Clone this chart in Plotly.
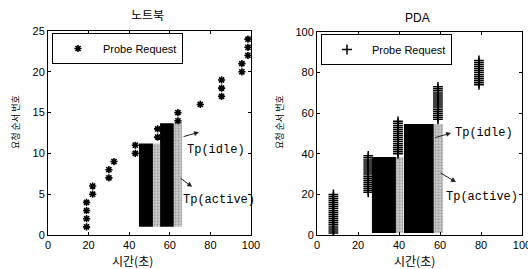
import plotly.graph_objects as go

# ---------------- data ----------------
# 노트북 (laptop)
nb_x = [19, 19, 19, 19, 22, 22, 30, 30, 32.5, 43, 43, 54, 54, 64, 64, 75,
        85.5, 85.5, 85.5, 95.5, 95.5, 98.5, 98.5, 98.5]
nb_y = [1, 2, 3, 4, 5, 6, 7, 8, 9, 10, 11, 12, 13, 14, 15, 16,
        17, 18, 19, 20, 21, 22, 23, 24]
nb_active_start = [44.8, 55.2]
nb_active_end = [51.7, 62.0]
nb_active_top = [11.2, 13.7]
nb_idle_start = [51.7, 62.0]
nb_idle_end = [55.2, 66.0]
nb_idle_top = [11.2, 13.9]
nb_bar_base = 1

# PDA
pda_x = ([8] * 20 + [25] * 19 + [39.5] * 17 + [59] * 17 + [79] * 13)
pda_y = ([1, 2, 3, 4, 5, 6, 7, 8, 9, 10, 11, 12, 13, 14, 15, 16, 17, 18, 19, 20]
         + [21, 22, 23, 24, 25, 26, 27, 28, 29, 30, 31, 32, 33, 34, 35, 36, 37, 38, 39]
         + [40, 41, 42, 43, 44, 45, 46, 47, 48, 49, 50, 51, 52, 53, 54, 55, 56]
         + [57, 58, 59, 60, 61, 62, 63, 64, 65, 66, 67, 68, 69, 70, 71, 72, 73]
         + [74, 75, 76, 77, 78, 79, 80, 81, 82, 83, 84, 85, 86])
pda_active_start = [26.8, 42.4]
pda_active_end = [38.5, 57.0]
pda_active_top = [38.4, 54.7]
pda_idle_start = [38.5, 57.0]
pda_idle_end = [42.0, 61.5]
pda_idle_top = [38.4, 54.7]
pda_bar_base = 1

x_ticks = [0, 20, 40, 60, 80, 100]
nb_y_ticks = [0, 5, 10, 15, 20, 25]
pda_y_ticks = [0, 20, 40, 60, 80, 100]

titles = ["노트북", "PDA"]
x_title = "시간(초)"
y_title = "요청 순서 번호"
legend_label = "Probe Request"

# ---------------- figure ----------------
W, H = 528, 269
TXT = "Liberation Sans, Arial, sans-serif"
KR = "Noto Sans CJK KR, sans-serif"
MONO = "Liberation Mono, Courier New, monospace"

fig = go.Figure()


def bars(starts, ends, tops, base, color, xa, ya, pattern=None):
    centers = [(s + e) / 2 for s, e in zip(starts, ends)]
    widths = [e - s for s, e in zip(starts, ends)]
    heights = [t - base for t in tops]
    marker = dict(color=color, line=dict(width=0))
    if pattern:
        marker["pattern"] = pattern
    fig.add_trace(go.Bar(x=centers, y=heights, base=[base] * len(tops), width=widths,
                         marker=marker, showlegend=False, xaxis=xa, yaxis=ya,
                         hoverinfo="skip"))


gray_pat = dict(shape=".", fgcolor="#707070", bgcolor="#d0d0d0", size=3, solidity=0.45)

bars(nb_active_start, nb_active_end, nb_active_top, nb_bar_base, "#000000", "x", "y")
bars(nb_idle_start, nb_idle_end, nb_idle_top, nb_bar_base, "#b4b4b4", "x", "y", gray_pat)
bars(pda_active_start, pda_active_end, pda_active_top, pda_bar_base, "#000000", "x2", "y2")
bars(pda_idle_start, pda_idle_end, pda_idle_top, pda_bar_base, "#b4b4b4", "x2", "y2", gray_pat)

fig.add_trace(go.Scatter(x=nb_x, y=nb_y, mode="markers", name=legend_label,
                         marker=dict(symbol="asterisk-open", size=6, color="#000",
                                     line=dict(width=1.6, color="#111")),
                         xaxis="x", yaxis="y", legend="legend"))
fig.add_trace(go.Scatter(x=pda_x, y=pda_y, mode="markers", name=legend_label,
                         marker=dict(symbol="cross-thin-open", size=7, color="#000",
                                     line=dict(width=1.5, color="#111")),
                         xaxis="x2", yaxis="y2", legend="legend2"))

axis_common = dict(showline=True, linecolor="#000", linewidth=1, mirror="ticks",
                   ticks="inside", ticklen=3, tickcolor="#000", showgrid=False,
                   zeroline=False, tickfont=dict(family=TXT, size=11, color="#000"),
                   fixedrange=True, automargin=False)

leg_common = dict(xanchor="left", yanchor="top", bordercolor="#000", borderwidth=1,
                  bgcolor="#fff", font=dict(family=TXT, size=11, color="#000"),
                  entrywidth=88, tracegroupgap=0, itemwidth=40)

fig.update_layout(
    width=W, height=H, margin=dict(l=0, r=0, t=0, b=0, autoexpand=False),
    paper_bgcolor="#fff", plot_bgcolor="#fff", barmode="overlay",
    xaxis=dict(domain=[48 / W, 251 / W], range=[0, 100], tickvals=x_ticks,
               anchor="y", **axis_common),
    yaxis=dict(domain=[(H - 235) / H, (H - 31) / H], range=[0, 25], tickvals=nb_y_ticks,
               anchor="x", **axis_common),
    xaxis2=dict(domain=[317 / W, 522 / W], range=[0, 100], tickvals=x_ticks,
                anchor="y2", ticklabeloverflow="allow", **axis_common),
    yaxis2=dict(domain=[(H - 235) / H, (H - 32) / H], range=[0, 100], tickvals=pda_y_ticks,
                anchor="x2", **axis_common),
    legend=dict(x=52 / W, y=(H - 33) / H, **leg_common),
    legend2=dict(x=321 / W, y=(H - 34) / H, **leg_common),
    showlegend=True,
)

ann = []
c = dict(xref="paper", yref="paper", showarrow=False, xanchor="center", yanchor="middle")
# titles
ann.append(dict(x=147 / W, y=(H - 15) / H, text=titles[0],
                font=dict(family=KR, size=12, color="#000"), **c))
ann.append(dict(x=417 / W, y=(H - 18) / H, text=titles[1],
                font=dict(family=TXT, size=12, color="#000"), **c))
# x titles
for cx in (132, 414):
    ann.append(dict(x=cx / W, y=(H - 260) / H, text=x_title,
                    font=dict(family=KR, size=12, color="#000"), **c))
# y titles
for cx in (15, 279):
    ann.append(dict(x=cx / W, y=(H - 122) / H, text=y_title, textangle=-90,
                    font=dict(family=KR, size=9, color="#000"), **c))

# Tp labels and arrows
mono = dict(family=MONO, size=12, color="#000")
t = dict(showarrow=False, xanchor="left", yanchor="middle", font=mono)
arr = dict(text="", showarrow=True, arrowhead=2, arrowsize=1, arrowwidth=1, arrowcolor="#222")
ann += [
    dict(x=67.5, y=10.4, xref="x", yref="y", text="Tp(idle)", **t),
    dict(x=65.5, y=4.3, xref="x", yref="y", text="Tp(active)", **t),
    dict(x=74.4, y=12.6, ax=66, ay=12.0, xref="x", yref="y", axref="x", ayref="y", **arr),
    dict(x=71, y=5.9, ax=64.5, ay=7.1, xref="x", yref="y", axref="x", ayref="y", **arr),
    dict(x=66.3, y=50.2, xref="x2", yref="y2", text="Tp(idle)", **t),
    dict(x=62, y=18.7, xref="x2", yref="y2", text="Tp(active)", **t),
    dict(x=65.4, y=50.2, ax=57, ay=47.8, xref="x2", yref="y2", axref="x2", ayref="y2", **arr),
    dict(x=67.8, y=26.1, ax=59.5, ay=31, xref="x2", yref="y2", axref="x2", ayref="y2", **arr),
]
fig.update_layout(annotations=ann)

fig.write_html("out.html", config={"displayModeBar": False},
               post_script="document.body.style.margin='0px';")
